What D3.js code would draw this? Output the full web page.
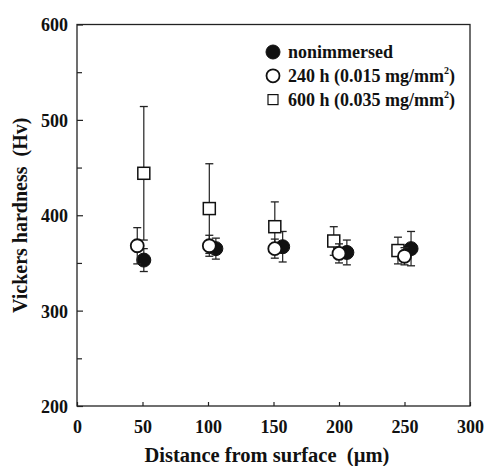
<!doctype html>
<html lang="en">
  <head>
    <meta charset="utf-8">
    <title>Vickers hardness</title>
    <script src="https://d3js.org/d3.v7.min.js"></script>
    <style>
      body { margin: 0; background: #fff; }
      text { font-family: "Liberation Serif", "DejaVu Serif", serif; font-weight: bold; fill: #111; }
    </style>
  </head>
  <body>
    <svg width="485" height="466"></svg>
    <script>
      // values
      var distNonimmersed = [51, 106, 157, 206, 255];
      var hvNonimmersed   = [353, 365, 367, 361, 365];
      var errNonimmersed  = [12, 11, 16, 13, 18];

      var dist240 = [46, 101, 151, 200, 250];
      var hv240   = [368, 368, 365, 360, 357];
      var err240  = [19, 11, 10, 10, 9];

      var dist600 = [51, 101, 151, 196, 245];
      var hv600   = [444, 407, 388, 373, 363];
      var err600  = [70, 47, 26, 15, 14];

      var xTicks = [0, 50, 100, 150, 200, 250, 300];
      var yTicks = [200, 300, 400, 500, 600];
      var yMinorTicks = [250, 350, 450, 550];

      var svg = d3.select('svg'),
          margin = {top: 24.5, right: 15, bottom: 60, left: 77},
          width = +svg.attr("width") - margin.left - margin.right,
          height = +svg.attr("height") - margin.top - margin.bottom,
          g = svg.append("g").attr("transform", "translate(" + margin.left + "," + margin.top + ")");

      var x = d3.scaleLinear().domain([0, 300]).range([0, width]);
      var y = d3.scaleLinear().domain([200, 600]).range([height, 0]);

      // frame
      g.append("rect")
          .attr("width", width)
          .attr("height", height)
          .attr("fill", "none")
          .attr("stroke", "#222")
          .attr("stroke-width", 1.3);

      // left axis, ticks inward
      var yAxis = g.append("g")
          .call(d3.axisLeft(y).tickValues(yTicks).tickSize(-6).tickPadding(9).tickFormat(d3.format("d")));
      yAxis.select(".domain").remove();
      yAxis.selectAll("text").attr("font-size", 18).attr("dy", "0.36em");
      yAxis.selectAll("line").attr("stroke", "#222").attr("stroke-width", 1.2);

      g.append("g")
          .call(d3.axisLeft(y).tickValues(yMinorTicks).tickSize(-5).tickFormat(""))
        .call(function(a) { a.select(".domain").remove(); })
        .selectAll("line").attr("stroke", "#222").attr("stroke-width", 1.2);

      // bottom axis, ticks inward
      var xAxis = g.append("g")
          .attr("transform", "translate(0," + height + ")")
          .call(d3.axisBottom(x).tickValues(xTicks).tickSize(-4).tickPadding(14).tickFormat(d3.format("d")));
      xAxis.select(".domain").remove();
      xAxis.selectAll("text").attr("font-size", 18);
      xAxis.selectAll("line").attr("stroke", "#222").attr("stroke-width", 1.2);

      // axis titles
      svg.append("text")
          .attr("x", margin.left + x(145))
          .attr("y", 462)
          .attr("text-anchor", "middle")
          .attr("font-size", 20.5)
          .attr("xml:space", "preserve")
          .text("Distance from surface  (\u00b5m)");

      svg.append("text")
          .attr("transform", "translate(27," + (margin.top + y(400)) + ") rotate(-90)")
          .attr("text-anchor", "middle")
          .attr("font-size", 20)
          .attr("xml:space", "preserve")
          .text("Vickers hardness  (Hv)");

      function rows(xs, ys, es) {
        return xs.map(function(d, i) { return {x: d, y: ys[i], e: es[i]}; });
      }

      var series = [
        {name: "nonimmersed", data: rows(distNonimmersed, hvNonimmersed, errNonimmersed), shape: "filled"},
        {name: "600", data: rows(dist600, hv600, err600), shape: "square"},
        {name: "240", data: rows(dist240, hv240, err240), shape: "open"}
      ];

      function drawMarker(sel, shape) {
        if (shape === "filled") {
          sel.append("circle").attr("r", 7).attr("fill", "#111").attr("stroke", "#111").attr("stroke-width", 1);
        } else if (shape === "open") {
          sel.append("circle").attr("r", 6.5).attr("fill", "#fff").attr("stroke", "#111").attr("stroke-width", 1.8);
        } else {
          sel.append("rect").attr("x", -6).attr("y", -6).attr("width", 12).attr("height", 12)
             .attr("fill", "#fff").attr("stroke", "#111").attr("stroke-width", 1.5);
        }
      }

      series.forEach(function(s) {
        var pts = g.append("g").selectAll("g")
            .data(s.data)
          .enter().append("g");

        pts.append("line")
            .attr("x1", function(d) { return x(d.x); })
            .attr("x2", function(d) { return x(d.x); })
            .attr("y1", function(d) { return y(d.y - d.e); })
            .attr("y2", function(d) { return y(d.y + d.e); })
            .attr("stroke", "#222")
            .attr("stroke-width", 1.2);

        [-1, 1].forEach(function(sign) {
          pts.append("line")
              .attr("x1", function(d) { return x(d.x) - 4; })
              .attr("x2", function(d) { return x(d.x) + 4; })
              .attr("y1", function(d) { return y(d.y + sign * d.e); })
              .attr("y2", function(d) { return y(d.y + sign * d.e); })
              .attr("stroke", "#222")
              .attr("stroke-width", 1.3);
        });

        pts.append("g")
            .attr("transform", function(d) { return "translate(" + x(d.x) + "," + y(d.y) + ")"; })
            .call(drawMarker, s.shape);
      });

      // legend
      var legendItems = [
        {shape: "filled", label: ["nonimmersed"]},
        {shape: "open", label: ["240 h (0.015 mg/mm", ")"]},
        {shape: "square", label: ["600 h (0.035 mg/mm", ")"]}
      ];
      var legend = svg.append("g").attr("transform", "translate(273,52)");
      legendItems.forEach(function(item, i) {
        var row = legend.append("g").attr("transform", "translate(0," + (i * 23.8) + ")");
        var m = row.append("g");
        drawMarker(m, item.shape);
        if (item.shape === "square") m.select("rect").attr("x", -5).attr("y", -5).attr("width", 10).attr("height", 10).attr("stroke-width", 1.2);
        var t = row.append("text")
            .attr("x", 15)
            .attr("y", 6)
            .attr("font-size", 18);
        t.append("tspan").text(item.label[0]);
        if (item.label.length > 1) {
          t.append("tspan").attr("font-size", 10).attr("dy", -7.5).text("2");
          t.append("tspan").attr("dy", 7.5).text(item.label[1]);
        }
      });
    </script>
  </body>
</html>
